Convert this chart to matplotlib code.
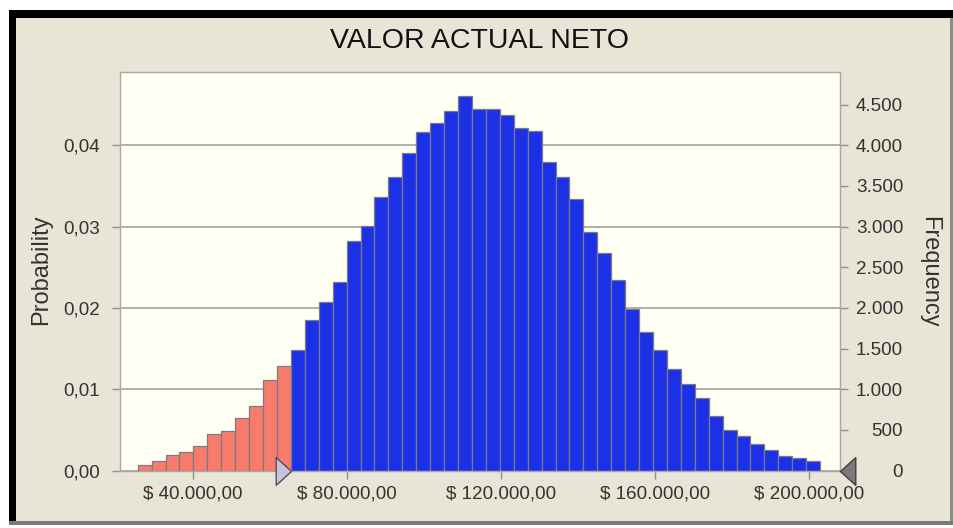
import matplotlib
matplotlib.use('Agg')
import matplotlib.pyplot as plt
from matplotlib.patches import Rectangle

# Crystal Ball forecast: "Valor actual neto", 100.000 trials
trials = 100000
bin_start = 25650      # left edge of first bin ($)
bin_width = 3615       # bin width ($)
counts = [70, 120, 190, 230, 300, 445, 485, 645, 790, 1110, 1285,
          1482, 1851, 2076, 2322, 2823, 3007, 3360, 3614, 3909, 4167,
          4278, 4425, 4610, 4446, 4446, 4373, 4209, 4176, 3798, 3614,
          3340, 2937, 2679, 2343, 1983, 1707, 1482, 1245, 1060, 888,
          670, 498, 424, 326, 252, 182, 150, 121]
n_below = 11           # bins left of the lower certainty grabber
x_ticks = [40000, 80000, 120000, 160000, 200000]
prob_ticks = [0.0, 0.01, 0.02, 0.03, 0.04]
freq_ticks = list(range(0, 5000, 500))
x_range = (21050, 207950)
prob_max = 0.0490

W, H = 954, 528
BEIGE = '#E8E5D6'
PLOT_BG = '#FFFFF3'
BLUE = '#1C30E8'
RED = '#F97B6B'
TXT = '#333333'
FONT = 'Liberation Sans'


def px_rect(fig, x0, y0, x1, y1, color):
    # rectangle given in image pixels (origin top-left)
    r = Rectangle((x0 / W, 1 - y1 / H), (x1 - x0) / W, (y1 - y0) / H,
                  transform=fig.transFigure, facecolor=color,
                  edgecolor='none', zorder=-10)
    fig.add_artist(r)


def dollar(v):
    s = f'{v:,.2f}'
    return '$ ' + s.replace(',', 'X').replace('.', ',').replace('X', '.')


fig = plt.figure(figsize=(W / 100, H / 100), dpi=100)
fig.patch.set_facecolor('white')

# window frame
px_rect(fig, 16, 18, 950, 521, BEIGE)
px_rect(fig, 9, 10, 954, 18, '#000000')
px_rect(fig, 9, 10, 16, 524, '#000000')
px_rect(fig, 950, 18, 954, 524, '#8C8C84')
px_rect(fig, 9, 521, 954, 525, '#7C7C74')

ax = fig.add_axes([120 / W, 57.5 / H, 720 / W, 398.5 / H])
ax.set_facecolor(PLOT_BG)
ax.set_axisbelow(True)

lefts = [bin_start + i * bin_width for i in range(len(counts))]
probs = [c / trials for c in counts]
colors = [RED if i < n_below else BLUE for i in range(len(counts))]
ax.bar(lefts, probs, width=bin_width, align='edge', color=colors,
       edgecolor='#7A7A8A', linewidth=0.9)

ax.set_xlim(*x_range)
ax.set_ylim(0, prob_max)

ax.set_xticks(x_ticks, labels=[dollar(v) for v in x_ticks],
              fontsize=13.6, fontfamily=FONT, color=TXT)
ax.set_yticks(prob_ticks,
              labels=[f'{v:.2f}'.replace('.', ',') for v in prob_ticks],
              fontsize=13.6, fontfamily=FONT, color=TXT)
ax.tick_params(axis='x', length=6, width=1, color='#909090', pad=5)
ax.tick_params(axis='y', length=6, width=1, color='#909090', pad=8.4)
ax.grid(axis='y', color='#A8A8A8', linewidth=1.3)

for sp in ax.spines.values():
    sp.set_color('#A8A8A8')
    sp.set_linewidth(1)

sec = ax.secondary_yaxis('right', functions=(lambda p: p * trials,
                                             lambda f: f / trials))
sec.set_yticks(freq_ticks,
               labels=[f'{v:,}'.replace(',', '.') for v in freq_ticks],
               fontsize=13.6, fontfamily=FONT, color=TXT, ha='right')
sec.tick_params(axis='y', length=6, width=1, color='#909090', pad=39.5)
sec.spines['right'].set_color('#A8A8A8')

# certainty grabbers
cut = lefts[n_below]
ax.plot([cut], [0], marker=[(-1.1, -1), (0, 0), (-1.1, 1), (-1.1, -1)],
        markersize=22, markerfacecolor='#C4C4DC', markeredgecolor='#505060',
        markeredgewidth=1, clip_on=False, zorder=5, linestyle='none')
ax.plot([x_range[1]], [0], marker=[(1.1, -1), (0, 0), (1.1, 1), (1.1, -1)],
        markersize=22, markerfacecolor='#7A7A7A', markeredgecolor='#404040',
        markeredgewidth=1, clip_on=False, zorder=5, linestyle='none')

fig.text(480 / W, 1 - 48 / H, 'VALOR ACTUAL NETO', ha='center',
         va='baseline', fontsize=20.5, fontfamily=FONT, color='#111111')
fig.text(41 / W, 1 - 270 / H, 'Probability', rotation=90, ha='center',
         va='center', fontsize=17, fontfamily=FONT, color=TXT)
fig.text(929 / W, 1 - 272 / H, 'Frequency', rotation=270, ha='center',
         va='center', fontsize=17, fontfamily=FONT, color=TXT)

fig.savefig('out.png', dpi=100, facecolor=fig.get_facecolor())
